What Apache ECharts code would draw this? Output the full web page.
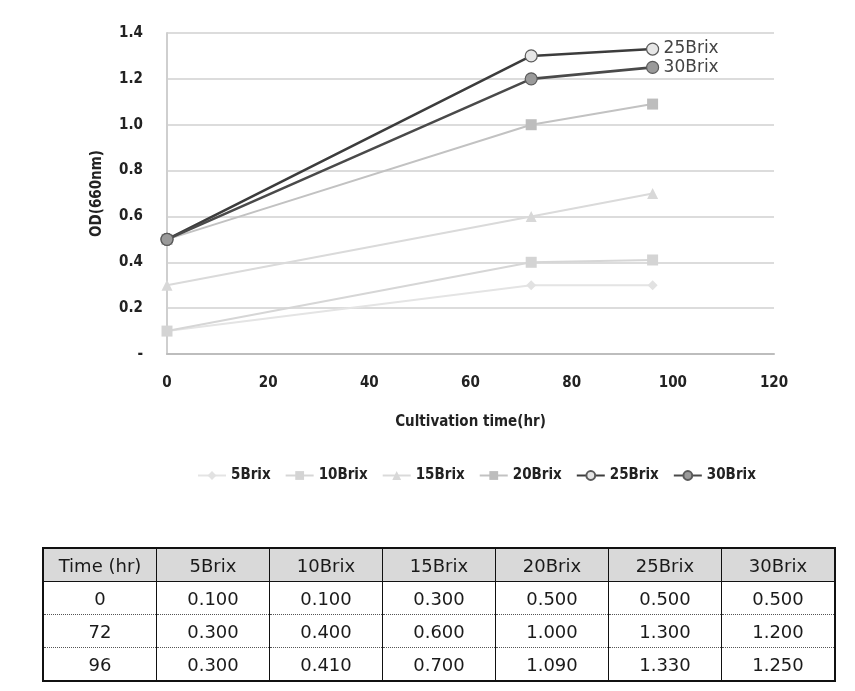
<!DOCTYPE html>
<html>
<head>
<meta charset="utf-8">
<script src="https://cdn.jsdelivr.net/npm/echarts@6/dist/echarts.min.js"></script>
<style>
  html, body { margin: 0; padding: 0; background: #fff; }
  #wrap { position: relative; width: 855px; height: 691px; }
  #chart { position: absolute; left: 0; top: 0; width: 855px; height: 691px; }
  #tbl { position: absolute; left: 42px; top: 547px; border-collapse: collapse;
         font-family: 'DejaVu Sans', sans-serif; font-size: 18px; color: #1a1a1a;
         border: 2px solid #111; table-layout: fixed; z-index: 2; }
  #tbl td, #tbl th { width: 112px; height: 32px; padding: 0; text-align: center;
         border-left: 1.5px solid #111; border-right: 1.5px solid #111; font-weight: normal; }
  #tbl th { background: #d9d9d9; border-bottom: 1.5px solid #111; }
  #tbl tr.r td { border-bottom: 1.5px dotted #555; }
</style>
</head>
<body>
<div id="wrap">
  <div id="chart"></div>
  <table id="tbl"></table>
</div>
<script>
// ---- data ----
const times = [0, 72, 96];
const seriesNames = ['5Brix', '10Brix', '15Brix', '20Brix', '25Brix', '30Brix'];
const brix5  = [0.100, 0.300, 0.300];
const brix10 = [0.100, 0.400, 0.410];
const brix15 = [0.300, 0.600, 0.700];
const brix20 = [0.500, 1.000, 1.090];
const brix25 = [0.500, 1.300, 1.330];
const brix30 = [0.500, 1.200, 1.250];
const yTicks = ['-', '0.2', '0.4', '0.6', '0.8', '1.0', '1.2', '1.4'];
const tableHeader = ['Time (hr)', '5Brix', '10Brix', '15Brix', '20Brix', '25Brix', '30Brix'];

const allValues = [brix5, brix10, brix15, brix20, brix25, brix30];

// ---- styles ----
const styles = [
  { line: '#e4e4e4', fill: '#e2e2e2', border: '#e2e2e2', symbol: 'diamond', size: 10, width: 2 },
  { line: '#d6d6d6', fill: '#d4d4d4', border: '#d4d4d4', symbol: 'rect', size: 11, width: 2 },
  { line: '#dadada', fill: '#d8d8d8', border: '#d8d8d8', symbol: 'triangle', size: 11, width: 2 },
  { line: '#c2c2c2', fill: '#bdbdbd', border: '#bdbdbd', symbol: 'rect', size: 11, width: 2 },
  { line: '#3c3c3c', fill: '#e6e6e6', border: '#5a5a5a', symbol: 'circle', size: 12, width: 2.6 },
  { line: '#4a4a4a', fill: '#9a9a9a', border: '#5a5a5a', symbol: 'circle', size: 12, width: 2.6 }
];

const fam = "'DejaVu Sans Condensed', 'DejaVu Sans', sans-serif";
const axisFont = { fontFamily: fam, fontWeight: 'bold', fontSize: 15, color: '#222' };

const series = seriesNames.map((name, k) => {
  const st = styles[k];
  const s = {
    name: name,
    type: 'line',
    data: times.map((t, i) => [t, allValues[k][i]]),
    symbol: st.symbol,
    symbolSize: st.size,
    showSymbol: true,
    lineStyle: { color: st.line, width: st.width },
    itemStyle: { color: st.fill, borderColor: st.border, borderWidth: k >= 4 ? 1.2 : 0 },
    emphasis: { disabled: true },
    z: 2 + k,
    animation: false
  };
  if (k >= 4) {
    s.endLabel = { show: true, formatter: '{a}', distance: 11,
      fontFamily: "'DejaVu Sans', sans-serif", fontSize: 17, color: '#444' };
  }
  return s;
});

const chart = echarts.init(document.getElementById('chart'), null, { renderer: 'canvas' });
chart.setOption({
  backgroundColor: '#fff',
  animation: false,
  grid: { left: 167, right: 81, top: 33, bottom: 337, containLabel: false },
  legend: {
    data: seriesNames,
    left: 192, top: 463,
    itemWidth: 28, itemHeight: 11, itemGap: 14,
    textStyle: { fontFamily: fam, fontWeight: 'bold', fontSize: 15, color: '#222' },
    selectedMode: false
  },
  xAxis: {
    type: 'value', min: 0, max: 120, interval: 20,
    name: 'Cultivation time(hr)', nameLocation: 'middle', nameGap: 61,
    nameTextStyle: axisFont,
    axisLine: { show: true, lineStyle: { color: '#bdbdbd', width: 2 } },
    axisTick: { show: false },
    splitLine: { show: false },
    axisLabel: Object.assign({ margin: 22 }, axisFont)
  },
  yAxis: {
    type: 'value', min: 0, max: 1.4, interval: 0.2,
    name: 'OD(660nm)', nameLocation: 'middle', nameGap: 62, nameRotate: 90,
    nameTextStyle: axisFont,
    axisLine: { show: true, lineStyle: { color: '#cfcfcf', width: 2 } },
    axisTick: { show: false },
    splitLine: { show: true, lineStyle: { color: '#dcdcdc', width: 2 } },
    axisLabel: Object.assign({ margin: 24, formatter: (v) => yTicks[Math.round(v / 0.2)] }, axisFont)
  },
  series: series
});

// ---- table ----
const tbl = document.getElementById('tbl');
let html = '<tr>' + tableHeader.map(h => '<th>' + h + '</th>').join('') + '</tr>';
times.forEach((t, i) => {
  html += '<tr' + (i < times.length - 1 ? ' class="r"' : '') + '><td>' + t + '</td>' +
    allValues.map(arr => '<td>' + arr[i].toFixed(3) + '</td>').join('') + '</tr>';
});
tbl.innerHTML = html;
</script>
</body>
</html>
